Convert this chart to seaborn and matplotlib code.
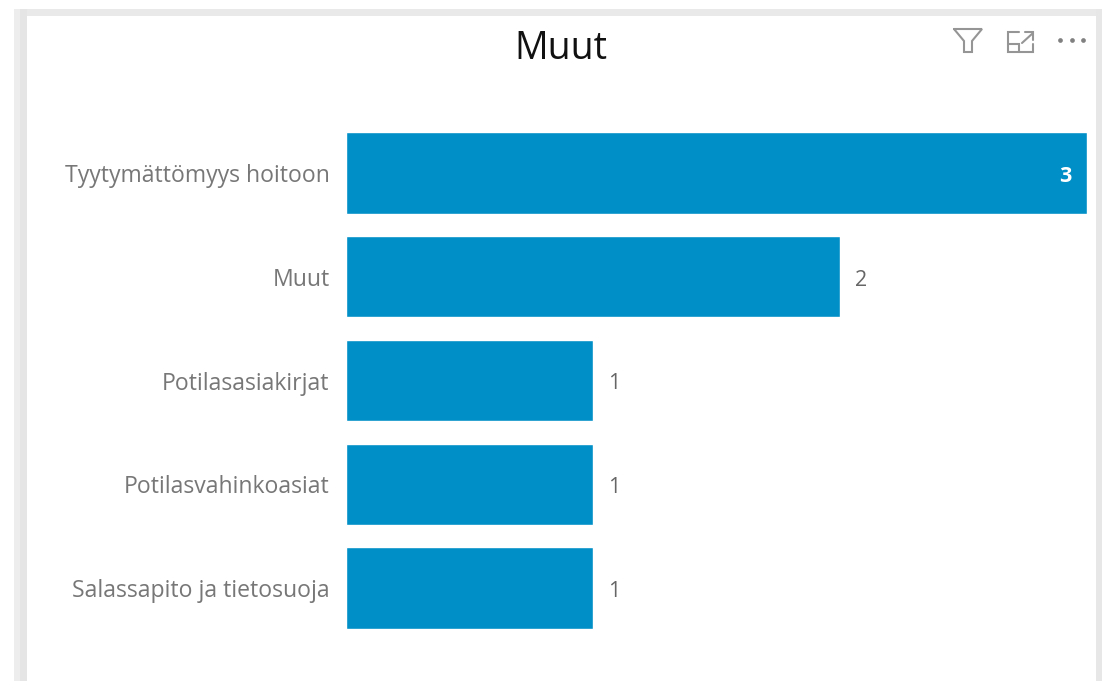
import matplotlib
matplotlib.use("Agg")
import matplotlib.pyplot as plt
from matplotlib.lines import Line2D
from matplotlib.patches import Rectangle
import pandas as pd
import seaborn as sns

categories = ["Tyytymättömyys hoitoon", "Muut", "Potilasasiakirjat",
              "Potilasvahinkoasiat", "Salassapito ja tietosuoja"]
values = [3, 2, 1, 1, 1]
title = "Muut"

W, H = 1104, 681
BAR = "#008FC6"
sns.set_theme(style="white")
plt.rcParams["font.family"] = ["Open Sans", "DejaVu Sans"]

fig = plt.figure(figsize=(W / 100, H / 100), dpi=100, facecolor="white")
fx = lambda x: x / W
fy = lambda y: 1 - y / H


def rect(x0, y0, x1, y1, color):
    fig.add_artist(Rectangle((fx(x0), fy(y1)), (x1 - x0) / W, (y1 - y0) / H,
                             transform=fig.transFigure, fc=color, ec="none", zorder=0))


# card shadow frame
rect(14, 9, 1102, 16, "#E9E9E9")
rect(14, 9, 20, 681, "#EDEDED")
rect(20, 9, 27, 681, "#E5E5E5")
rect(1096, 9, 1102, 681, "#E7E7E7")
rect(27, 16, 1096, 681, "white")

ax = fig.add_axes([fx(345.5), fy(640), (1087 - 345.5) / W, (640 - 121) / H])
ax.patch.set_alpha(0)
df = pd.DataFrame({"category": categories, "value": values})
sns.barplot(data=df, x="value", y="category", color=BAR, saturation=1,
            width=0.785, ax=ax)
ax.set_xlim(0, max(values))
ax.set_xlabel("")
ax.set_ylabel("")
ax.set_xticks([])
sns.despine(ax=ax, left=True, bottom=True, top=True, right=True)
ax.tick_params(axis="y", length=0, pad=11.5, labelsize=16.6, labelcolor="#777777")

container = ax.containers[0]
labels = ax.bar_label(container, padding=11, fontsize=15.5, color="#666666")
for lab, v in zip(labels, values):
    lab.xyann = (11, -2.5)
    if v == max(values):
        lab.xyann = (-11, -2.5)
        lab.set_ha("right")
        lab.set_color("white")
        lab.set_fontweight("bold")

fig.text(fx(561), fy(49), title, ha="center", va="center", fontsize=27, color="#111111")


def icon(xs, ys, lw=1.5, color="#959595"):
    fig.add_artist(Line2D([fx(x) for x in xs], [fy(y) for y in ys],
                          transform=fig.transFigure, lw=lw, color=color,
                          solid_joinstyle="miter"))


# filter icon
icon([954, 982, 972, 972, 964, 964, 954], [29, 29, 41, 52, 52, 41, 29])
# focus-mode icon
icon([1019, 1008, 1008, 1033, 1033], [32, 32, 52, 52, 44])
icon([1008, 1019, 1019], [44, 44, 52])
icon([1022, 1033], [43, 33])
icon([1025, 1033, 1033], [32, 32, 40])
# more-options dots
for x in (1060, 1072, 1083):
    fig.add_artist(Line2D([fx(x)], [fy(40)], transform=fig.transFigure, marker="o",
                          ms=3.4, color="#808080", mew=0, ls="none"))

fig.savefig("out.png", dpi=100, facecolor="white")
